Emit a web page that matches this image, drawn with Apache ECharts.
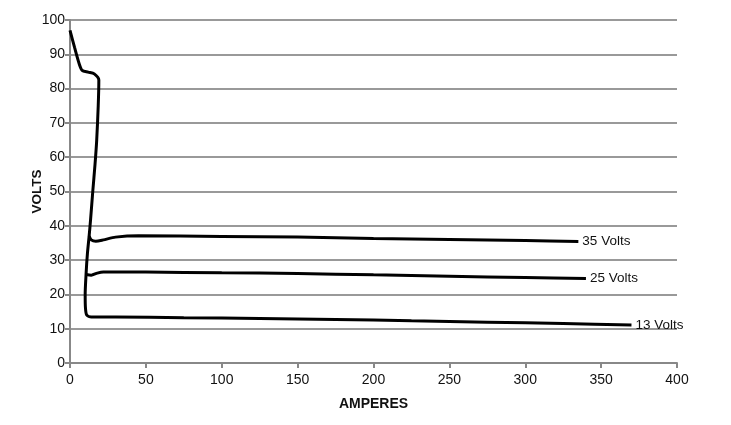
<!DOCTYPE html>
<html><head><meta charset="utf-8">
<script src="https://cdn.jsdelivr.net/npm/echarts@6/dist/echarts.min.js"></script>
<style>html,body{margin:0;padding:0;background:#fff}#c{width:731px;height:425px}</style>
</head><body><div id="c"></div>
<script>
// Main curve (open-circuit drop down into the 13 V branch)
const mainCurve = [[0,97],[3,92],[6,87.3],[8,85.3],[12,84.8],[16,84.3],[19,82.5],[18.6,75],[17.6,65],[16.5,58],[15,50],[13.6,42],[12.6,37],[11.5,32],[10.6,26],[10,20],[10.2,16],[11,14],[14,13.4],[30,13.4],[75,13.2],[125,13],[175,12.7],[225,12.3],[275,11.9],[325,11.5],[370,11.1]];
const volts35 = [[12.6,37],[14,35.9],[17,35.5],[22,35.9],[30,36.7],[45,37.1],[100,36.9],[150,36.7],[200,36.3],[250,36.0],[300,35.7],[335,35.4]];
const volts25 = [[10.6,25.8],[14,25.6],[18,26.2],[22,26.5],[50,26.5],[100,26.3],[150,26.1],[200,25.7],[250,25.3],[300,24.9],[340,24.6]];
const seriesNames = ['13 Volts','35 Volts','25 Volts'];
const xTicks = {min:0,max:400,interval:50};
const yTicks = {min:0,max:100,interval:10};

const font = 'Liberation Sans, Arial, sans-serif';
const chart = echarts.init(document.getElementById('c'));
function lineSeries(name, data){
  return {
    name, type:'line', data, showSymbol:false, smooth:0.25,
    lineStyle:{color:'#000', width:3},
    endLabel:{show:true, formatter:name, color:'#111', fontSize:13.5, fontFamily:font, distance:4},
    animation:false
  };
}
chart.setOption({
  animation:false,
  grid:{left:70, right:54, top:20, bottom:62},
  xAxis:{type:'value', ...xTicks, name:'AMPERES', nameLocation:'middle', nameGap:34, nameMoveOverlap:false,
    nameTextStyle:{fontWeight:'bold', fontSize:14, color:'#111', fontFamily:font},
    axisLine:{lineStyle:{color:'#888', width:2}},
    axisTick:{show:true, length:5, lineStyle:{color:'#888', width:2}},
    axisLabel:{color:'#111', fontSize:14, fontFamily:font, margin:10},
    splitLine:{show:false}},
  yAxis:{type:'value', ...yTicks, name:'VOLTS', nameLocation:'middle', nameGap:26, nameMoveOverlap:false,
    nameTextStyle:{fontWeight:'bold', fontSize:13.5, color:'#111', fontFamily:font},
    axisLine:{show:true, lineStyle:{color:'#888', width:2}},
    axisTick:{show:true, length:5, lineStyle:{color:'#888', width:2}},
    axisLabel:{color:'#111', fontSize:14, fontFamily:font, margin:5},
    splitLine:{show:true, lineStyle:{color:'#999', width:2}}},
  series:[lineSeries(seriesNames[0], mainCurve), lineSeries(seriesNames[1], volts35), lineSeries(seriesNames[2], volts25)]
});
</script></body></html>
